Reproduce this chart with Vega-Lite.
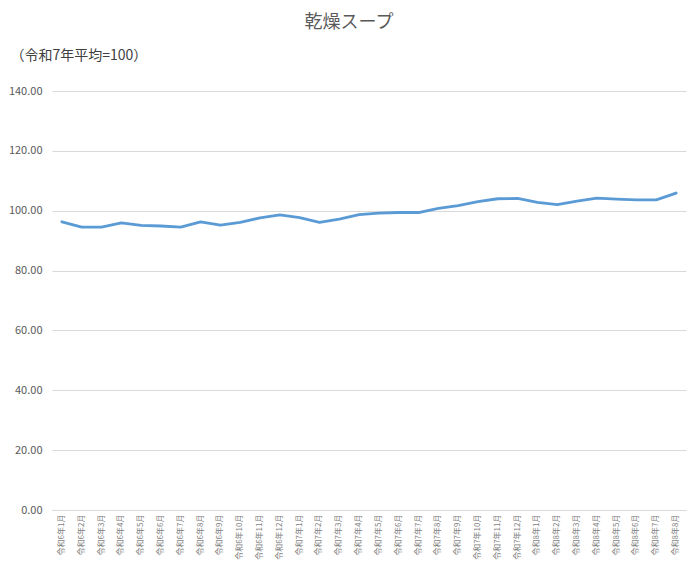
{
  "$schema": "https://vega.github.io/schema/vega-lite/v6.json",
  "width": 634,
  "height": 419,
  "autosize": {"type": "none"},
  "padding": {"left": 52, "top": 91, "right": 14, "bottom": 53},
  "background": "#ffffff",
  "title": {
    "text": "乾燥スープ",
    "anchor": "middle",
    "font": "Noto Sans CJK JP",
    "fontSize": 18,
    "fontWeight": "normal",
    "color": "#595959",
    "offset": 16,
    "dx": -20
  },
  "data": {
    "values": [
      {"month": "令和6年1月", "value": 96.3},
      {"month": "令和6年2月", "value": 94.5},
      {"month": "令和6年3月", "value": 94.5},
      {"month": "令和6年4月", "value": 95.9},
      {"month": "令和6年5月", "value": 95.1},
      {"month": "令和6年6月", "value": 94.9},
      {"month": "令和6年7月", "value": 94.5},
      {"month": "令和6年8月", "value": 96.3},
      {"month": "令和6年9月", "value": 95.2},
      {"month": "令和6年10月", "value": 96.1},
      {"month": "令和6年11月", "value": 97.6},
      {"month": "令和6年12月", "value": 98.6},
      {"month": "令和7年1月", "value": 97.7},
      {"month": "令和7年2月", "value": 96.1},
      {"month": "令和7年3月", "value": 97.2},
      {"month": "令和7年4月", "value": 98.7},
      {"month": "令和7年5月", "value": 99.2},
      {"month": "令和7年6月", "value": 99.4},
      {"month": "令和7年7月", "value": 99.4},
      {"month": "令和7年8月", "value": 100.8},
      {"month": "令和7年9月", "value": 101.7},
      {"month": "令和7年10月", "value": 103.0},
      {"month": "令和7年11月", "value": 104.0},
      {"month": "令和7年12月", "value": 104.1},
      {"month": "令和8年1月", "value": 102.8},
      {"month": "令和8年2月", "value": 102.0},
      {"month": "令和8年3月", "value": 103.2},
      {"month": "令和8年4月", "value": 104.2},
      {"month": "令和8年5月", "value": 103.9},
      {"month": "令和8年6月", "value": 103.6},
      {"month": "令和8年7月", "value": 103.6},
      {"month": "令和8年8月", "value": 105.9}
    ]
  },
  "mark": {"type": "line", "color": "#5b9bd5", "strokeWidth": 2.8, "strokeCap": "round", "strokeJoin": "round"},
  "encoding": {
    "x": {
      "field": "month",
      "type": "ordinal",
      "sort": null,
      "scale": {"type": "band", "paddingInner": 0, "paddingOuter": 0},
      "axis": {
        "title": null,
        "labelAngle": -90,
        "labelAlign": "right",
        "labelBaseline": "middle",
        "labelFont": "Noto Sans CJK JP",
        "labelFontSize": 8,
        "labelColor": "#7f7f7f",
        "labelPadding": 4,
        "ticks": false,
        "domainColor": "#d9d9d9",
        "grid": false
      }
    },
    "y": {
      "field": "value",
      "type": "quantitative",
      "scale": {"domain": [0, 140], "nice": false},
      "axis": {
        "values": [0, 20, 40, 60, 80, 100, 120, 140],
        "format": ".2f",
        "title": "（令和7年平均=100）",
        "titleAngle": 0,
        "titleAlign": "left",
        "titleBaseline": "middle",
        "titleX": -42,
        "titleY": -36,
        "titleFont": "Noto Sans CJK JP",
        "titleFontSize": 14,
        "titleFontWeight": "normal",
        "titleColor": "#404040",
        "labelFont": "Noto Sans CJK JP",
        "labelFontSize": 11,
        "labelColor": "#595959",
        "labelPadding": 10,
        "ticks": false,
        "domain": false,
        "gridColor": "#d9d9d9",
        "gridWidth": 1
      }
    }
  },
  "config": {"view": {"stroke": null}}
}
